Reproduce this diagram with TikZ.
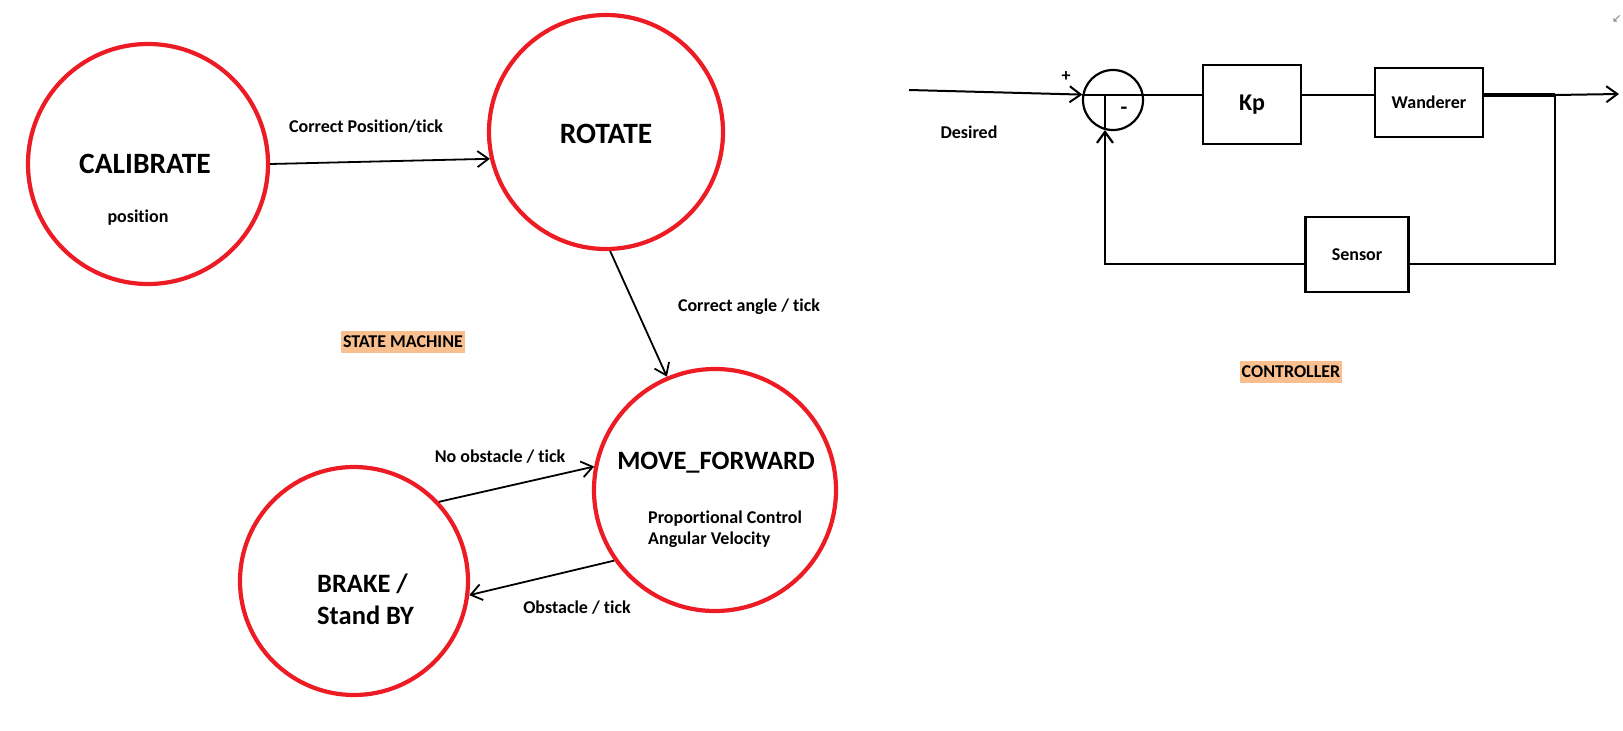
\documentclass[tikz,border=0pt]{standalone}
\usepackage{fontspec}
\setmainfont[Ligatures={NoCommon}]{Carlito}
\newfontfamily\symfont{DejaVu Sans}
\usetikzlibrary{arrows.meta}
\definecolor{statered}{RGB}{237,28,36}
\definecolor{hlorange}{RGB}{250,191,143}
\tikzset{
  >={Straight Barb[length=11pt,width=16pt]},
  state/.style={circle, draw=statered, line width=4.2pt, inner sep=0pt},
  bigtxt/.style={font=\fontsize{29.5}{32}\selectfont\bfseries, inner sep=0pt},
  midtxt/.style={font=\fontsize{26.5}{32}\selectfont\bfseries, inner sep=0pt, align=left},
  smalltxt/.style={font=\fontsize{18}{21}\selectfont\bfseries, inner sep=0pt, align=left},
  tag/.style={fill=hlorange, font=\fontsize{18}{20}\selectfont\bfseries,
    inner xsep=2pt, minimum height=22pt},
  blk/.style={rectangle, draw, line width=2.2pt, font=\fontsize{18}{20}\selectfont\bfseries},
  trans/.style={->, line width=1.8pt},
  wire/.style={line width=2.2pt},
}

\begin{document}
\begin{tikzpicture}[x=1pt, y=-1pt]
  \useasboundingbox (0,0) rectangle (1623,731);
  % state machine
  \node[state, minimum size=240pt] (cal) at (148,164) {};
  \node[state, minimum size=234pt] (rot) at (606,132) {};
  \node[state, minimum size=242pt] (mf) at (715,490) {};
  \node[state, minimum size=228pt] (brk) at (354,581) {};
  \node[bigtxt] (calname) at (145,164) {CALIBRATE};
  \node[smalltxt] (calsub) at (138,218) {position};
  \node[bigtxt] (rotname) at (606,134) {ROTATE};
  \node[midtxt] (mfname) at (716,463) {MOVE\_FORWARD};
  \node[smalltxt, anchor=west] (mfsub) at (648,529) {Proportional Control\\Angular Velocity};
  \node[midtxt, anchor=west] (brkname) at (317,599) {BRAKE /\\Stand BY};
  \draw[trans] (cal.east) -- (rot.193);
  \draw[trans] (rot.-88) -- (mf.113);
  \draw[trans] (brk.43) -- (mf.169);
  \draw[trans] (mf.215) -- (brk.-7);
  \node[smalltxt] (lblpos) at (366,127) {Correct Position/tick};
  \node[smalltxt] (lblang) at (749,307) {Correct angle / tick};
  \node[smalltxt] (lblnoobs) at (500,457) {No obstacle / tick};
  \node[smalltxt] (lblobs) at (577,608) {Obstacle / tick};
  \node[tag] (smtag) at (403,342) {STATE MACHINE};
  % controller
  \node[circle, draw, line width=2.2pt, minimum size=60pt, inner sep=0pt] (sum) at (1113,100) {};
  \node[blk, minimum width=98pt, minimum height=79pt, font=\fontsize{24}{26}\selectfont\bfseries]
    (kp) at (1252,104.5) {Kp};
  \node[blk, minimum width=108pt, minimum height=69pt] (wan) at (1429,102.5) {Wanderer};
  \node[blk, minimum width=103pt, minimum height=75pt] (sens) at (1357,254.5) {Sensor};
  \coordinate (in) at (909,90);
  \coordinate (br) at (1555,95);
  \coordinate (out) at (1619,94);
  \coordinate (fb) at (1555,264);
  \draw[->, line width=2pt] (in) -- (sum.170);
  \draw[wire] (sum.170) -- (sum.170 -| kp.west);
  \draw[wire] (kp.east |- sum.170) -- (sum.170 -| wan.west);
  \draw[line width=3.4pt] (wan.east |- br) -- (br);
  \draw[->, line width=2pt] (br) -- (out);
  \draw[wire] (br) -- (fb) -- (fb -| sens.east);
  \draw[->, wire] (fb -| sens.west) -- (fb -| sum.-105) -- (sum.-105);
  \draw[wire] (sum.-105) -- (sum.170 -| sum.-105);
  \node[smalltxt] (plus) at (1066,77) {+};
  \node[smalltxt, font=\fontsize{22}{22}\selectfont\bfseries] (minus) at (1124,111) {-};
  \node[smalltxt] (desired) at (969,132) {Desired};
  \node[tag] (ctag) at (1291,372) {CONTROLLER};
  \node[font=\symfont\fontsize{12}{12}\selectfont, text=gray, inner sep=0pt] (corner) at (1617,19) {↙};
\end{tikzpicture}
\end{document}
